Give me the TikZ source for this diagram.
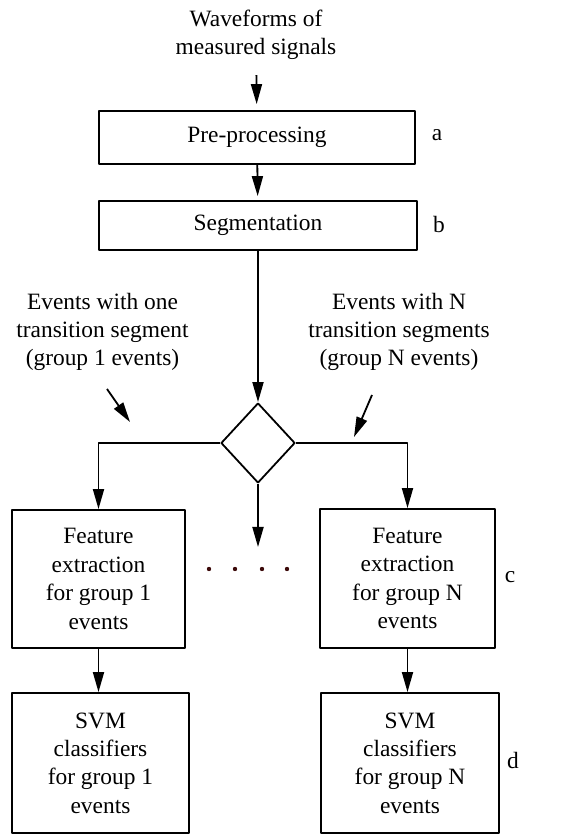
\documentclass[tikz,border=0pt]{standalone}
\usepackage{fontspec}
\setmainfont{Liberation Serif}
\usepackage{tikz}
\usetikzlibrary{arrows.meta}
\usetikzlibrary{shapes.geometric}

\definecolor{dotcol}{RGB}{60,10,10}

\begin{document}
\begin{tikzpicture}[>={Triangle[length=20bp,width=11bp]},line join=bevel,line width=1.8bp,
  every node/.style={font=\fontsize{23.5}{28.5}\selectfont,align=center},
  stage/.style={draw,inner sep=0pt}]
%%
\useasboundingbox (0bp,0bp) rectangle (564bp,835bp);
\node (src) at (256bp,800bp) {Waveforms of\\measured signals};
  \node (pre) at (257bp,697.5bp) [stage,minimum width=316bp,minimum height=53bp] {Pre-processing};
  \node (lbl_a) at (437bp,700bp) {a};
  \node (seg) at (258bp,609.5bp) [stage,minimum width=318bp,minimum height=49bp] {Segmentation};
  \node (lbl_b) at (439bp,611bp) {b};
  \node (grp_1) at (102.5bp,503bp) {Events with one\\transition segment\\(group 1 events)};
  \node (grp_N) at (399bp,503bp) {Events with N\\transition segments\\(group N events)};
  \node (dec) at (258bp,392bp) [draw,diamond,inner sep=0pt,minimum width=74bp,minimum height=80bp] {};
  \node (feat_1) at (98.5bp,256bp) [stage,minimum width=173bp,minimum height=138bp] {Feature\\extraction\\for group 1\\events};
  \node (feat_N) at (407.5bp,256.5bp) [stage,minimum width=175bp,minimum height=139bp] {Feature\\extraction\\for group N\\events};
  \node (lbl_c) at (510bp,258bp) {c};
  \node (svm_1) at (100.5bp,72bp) [stage,minimum width=177bp,minimum height=140bp] {SVM\\classifiers\\for group 1\\events};
  \node (svm_N) at (410bp,72bp) [stage,minimum width=178bp,minimum height=140bp] {SVM\\classifiers\\for group N\\events};
  \node (lbl_d) at (513bp,75bp) {d};
  \coordinate (mid) at (259bp,288bp);
  \coordinate (p1_from) at (107bp,446bp);
  \coordinate (p1_to) at (130bp,413bp);
  \coordinate (pN_from) at (372bp,440bp);
  \coordinate (pN_to) at (354bp,398bp);
  \foreach \x in {209,235,262,287}
    \fill [dotcol] (\x bp,266bp) circle (2.2bp);
  \draw [->,shorten <=11bp,shorten >=6bp] (src) -- (pre);
  \draw [->,shorten >=4bp] (pre) -- (seg);
  \draw [->] (seg) -- (dec);
  \draw [->] (dec.west) -| (feat_1.north);
  \draw [->] (dec.east) -| (feat_N.north);
  \draw [->] (dec.south) -- (dec.south |- mid);
  \draw [->] (feat_1.south) -- (feat_1.south |- svm_1.north);
  \draw [->] (feat_N.south) -- (feat_N.south |- svm_N.north);
  \draw [->] (p1_from) -- (p1_to);
  \draw [->] (pN_from) -- (pN_to);
%
\end{tikzpicture}
\end{document}
